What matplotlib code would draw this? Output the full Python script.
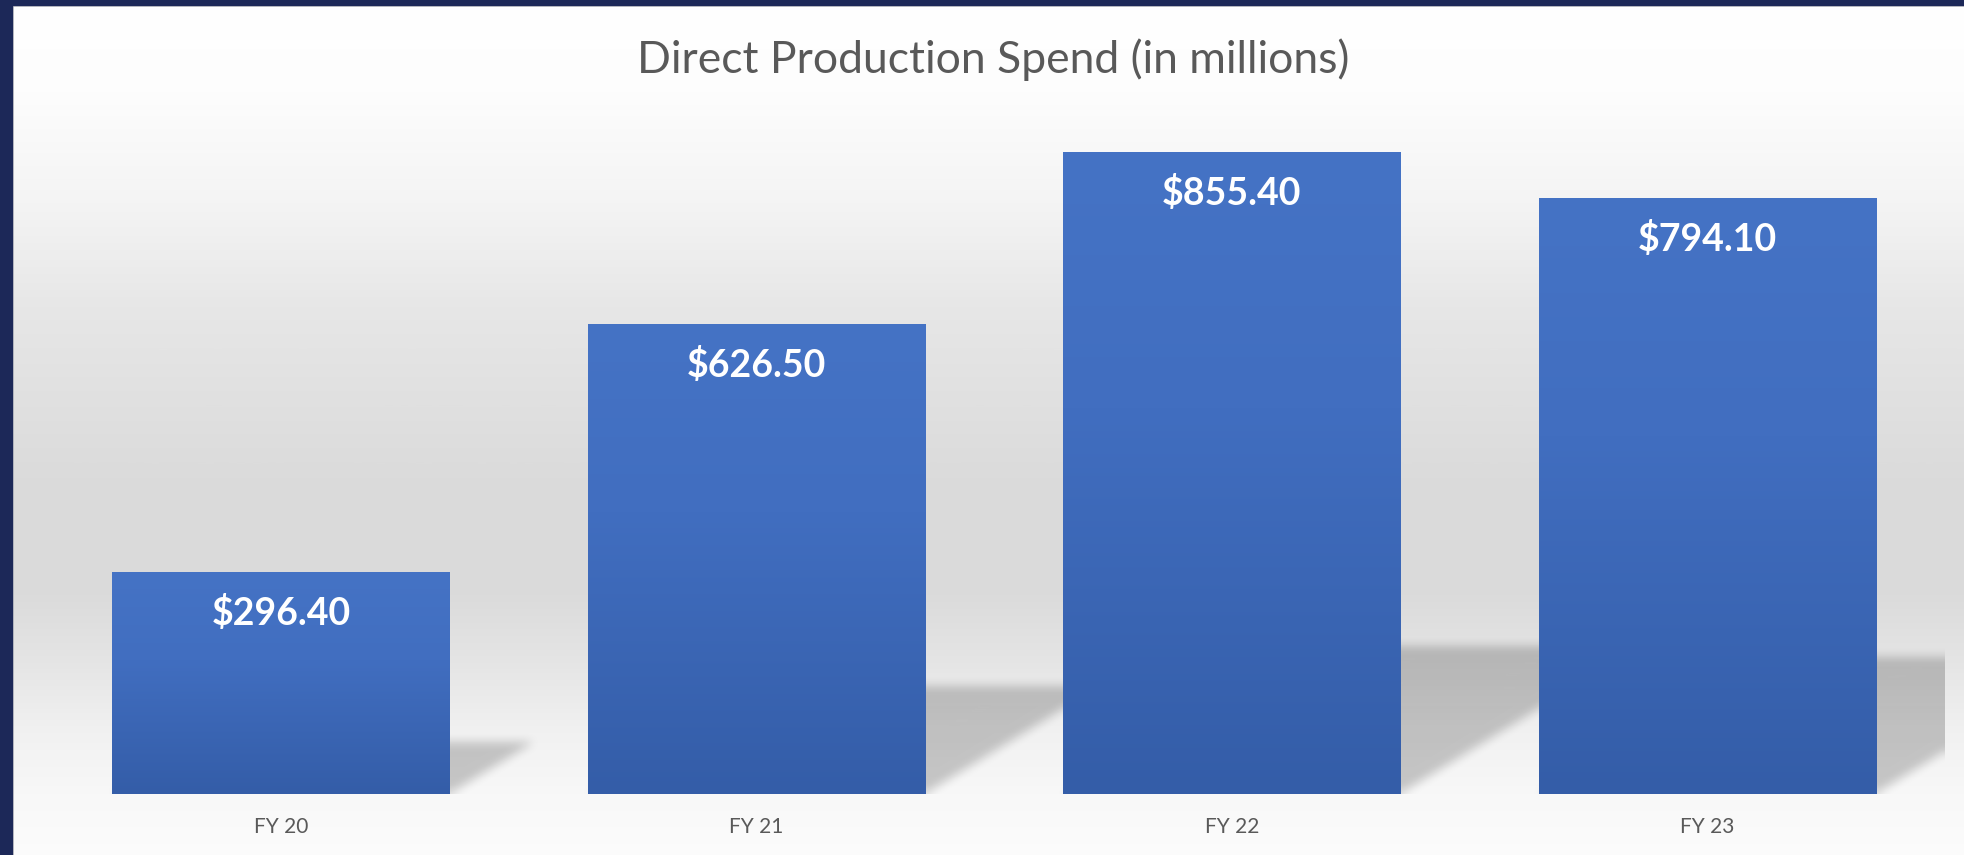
import matplotlib.pyplot as plt
import numpy as np
from matplotlib.colors import LinearSegmentedColormap
from matplotlib.patches import Rectangle
from matplotlib.path import Path

# data
categories = ["FY 20", "FY 21", "FY 22", "FY 23"]
spend = [296.40, 626.50, 855.40, 794.10]
value_labels = ["$296.40", "$626.50", "$855.40", "$794.10"]
title = "Direct Production Spend (in millions)"

W_PX, H_PX, DPI = 1964, 855, 100
NAVY = "#1c2858"
TEXT_GRAY = "#595959"
BAR_WIDTH = 0.71
Y_MAX = 925
SHADOW_SQUASH = 0.23   # shadow height as a share of the bar height
SHADOW_SKEW = 1.63     # horizontal px per vertical px of shadow
SHADOW_ALPHA = 0.2


def box_blur(a, r):
    # separable box blur, run along rows then columns
    for axis in (0, 1):
        pad = [(0, 0), (0, 0)]
        pad[axis] = (r + 1, r)
        c = np.cumsum(np.pad(a, pad, mode="edge"), axis=axis)
        if axis == 0:
            a = (c[2 * r + 1:] - c[:-2 * r - 1]) / (2 * r + 1)
        else:
            a = (c[:, 2 * r + 1:] - c[:, :-2 * r - 1]) / (2 * r + 1)
    return a


plt.rcParams["font.family"] = ["Lato", "DejaVu Sans"]
fig = plt.figure(figsize=(W_PX / DPI, H_PX / DPI), dpi=DPI, facecolor="#f4f4f4")

# background panel with vertical grey gradient
bg = fig.add_axes([12 / W_PX, -0.01, 1.02 - 12 / W_PX, 1.01 - 5 / H_PX])
bg_cmap = LinearSegmentedColormap.from_list(
    "bg",
    [
        (0.0, "#ffffff"),
        (0.10, "#fdfdfd"),
        (0.23, "#f4f4f4"),
        (0.35, "#e7e7e7"),
        (0.55, "#dbdbdb"),
        (0.68, "#dadada"),
        (0.76, "#e4e4e4"),
        (0.84, "#f0f0f0"),
        (0.92, "#f8f8f8"),
        (1.0, "#fcfcfc"),
    ],
)
bg.imshow(np.linspace(0, 1, 512).reshape(-1, 1), cmap=bg_cmap, extent=[0, 1, 0, 1],
          origin="upper", aspect="auto")
bg.set_xlim(0, 1)
bg.set_ylim(0, 1)
bg.set_xticks([])
bg.set_yticks([])
for side in ("right", "bottom"):
    bg.spines[side].set_visible(False)
for side in ("left", "top"):
    bg.spines[side].set_color("#d4d4d4")
    bg.spines[side].set_linewidth(2)

# navy slide frame on the left and top
fig.patches.append(Rectangle((0, 0), 12 / W_PX, 1, transform=fig.transFigure,
                             color=NAVY, zorder=5))
fig.patches.append(Rectangle((0, 1 - 5 / H_PX), 1, 5 / H_PX, transform=fig.transFigure,
                             color=NAVY, zorder=5))

# plot area
base_px, top_px = 794.3, 100
left_px, right_px = 43.25, 1945
ax = fig.add_axes([left_px / W_PX, (H_PX - base_px) / H_PX,
                   (right_px - left_px) / W_PX, (base_px - top_px) / H_PX])
ax.set_facecolor("none")

# soft skewed floor shadows behind the bars
ax_w = int(round(right_px - left_px))
ax_h = int(round(base_px - top_px))
xs = np.linspace(-0.5, 3.5, ax_w)
ys = np.linspace(0, Y_MAX, ax_h)
XX, YY = np.meshgrid(xs, ys)
pts = np.column_stack([XX.ravel(), YY.ravel()])
mask = np.zeros(XX.shape)
x_px_per_unit = ax_w / 4
y_px_per_unit = ax_h / Y_MAX
for i, v in enumerate(spend):
    hs = SHADOW_SQUASH * v
    shift = hs * y_px_per_unit * SHADOW_SKEW / x_px_per_unit
    xl, xr = i - BAR_WIDTH / 2, i + BAR_WIDTH / 2
    poly = Path([(xl, 0), (xr, 0), (xr + shift, hs), (xl + shift, hs)])
    inside = poly.contains_points(pts).reshape(XX.shape)
    mask = np.maximum(mask, inside.astype(float))
mask = box_blur(box_blur(mask, 5), 5)
rgba = np.zeros(mask.shape + (4,))
rgba[..., 3] = mask * SHADOW_ALPHA
ax.imshow(rgba, extent=[-0.5, 3.5, 0, Y_MAX], origin="lower", aspect="auto",
          zorder=1, interpolation="bilinear")

# bars with vertical blue gradient
bars = ax.bar(range(len(categories)), spend, width=BAR_WIDTH, color="#3d68b8", zorder=2)
bar_cmap = LinearSegmentedColormap.from_list(
    "bar", [(0.0, "#345da8"), (0.6, "#416ec0"), (1.0, "#4573c5")]
)
for b in bars:
    im = ax.imshow(np.linspace(0, 1, 256).reshape(-1, 1), cmap=bar_cmap,
                   extent=[b.get_x(), b.get_x() + b.get_width(), 0, b.get_height()],
                   origin="lower", aspect="auto", zorder=3)
    im.set_clip_path(b)

for i, (v, lbl) in enumerate(zip(spend, value_labels)):
    ax.annotate(lbl, (i, v), xytext=(0, -29.5), textcoords="offset points",
                ha="center", va="center", color="white", fontsize=27,
                fontweight="bold", zorder=4)

ax.set_xlim(-0.5, 3.5)
ax.set_ylim(0, Y_MAX)
ax.set_xticks(range(len(categories)), categories)
ax.set_yticks([])
ax.tick_params(axis="x", length=0, pad=16, labelsize=15, labelcolor=TEXT_GRAY)
for s in ax.spines.values():
    s.set_visible(False)

fig.text(993 / W_PX, 1 - 73 / H_PX, title, ha="center", va="baseline",
         fontsize=32, color=TEXT_GRAY)

fig.savefig("out.png", dpi=DPI)
